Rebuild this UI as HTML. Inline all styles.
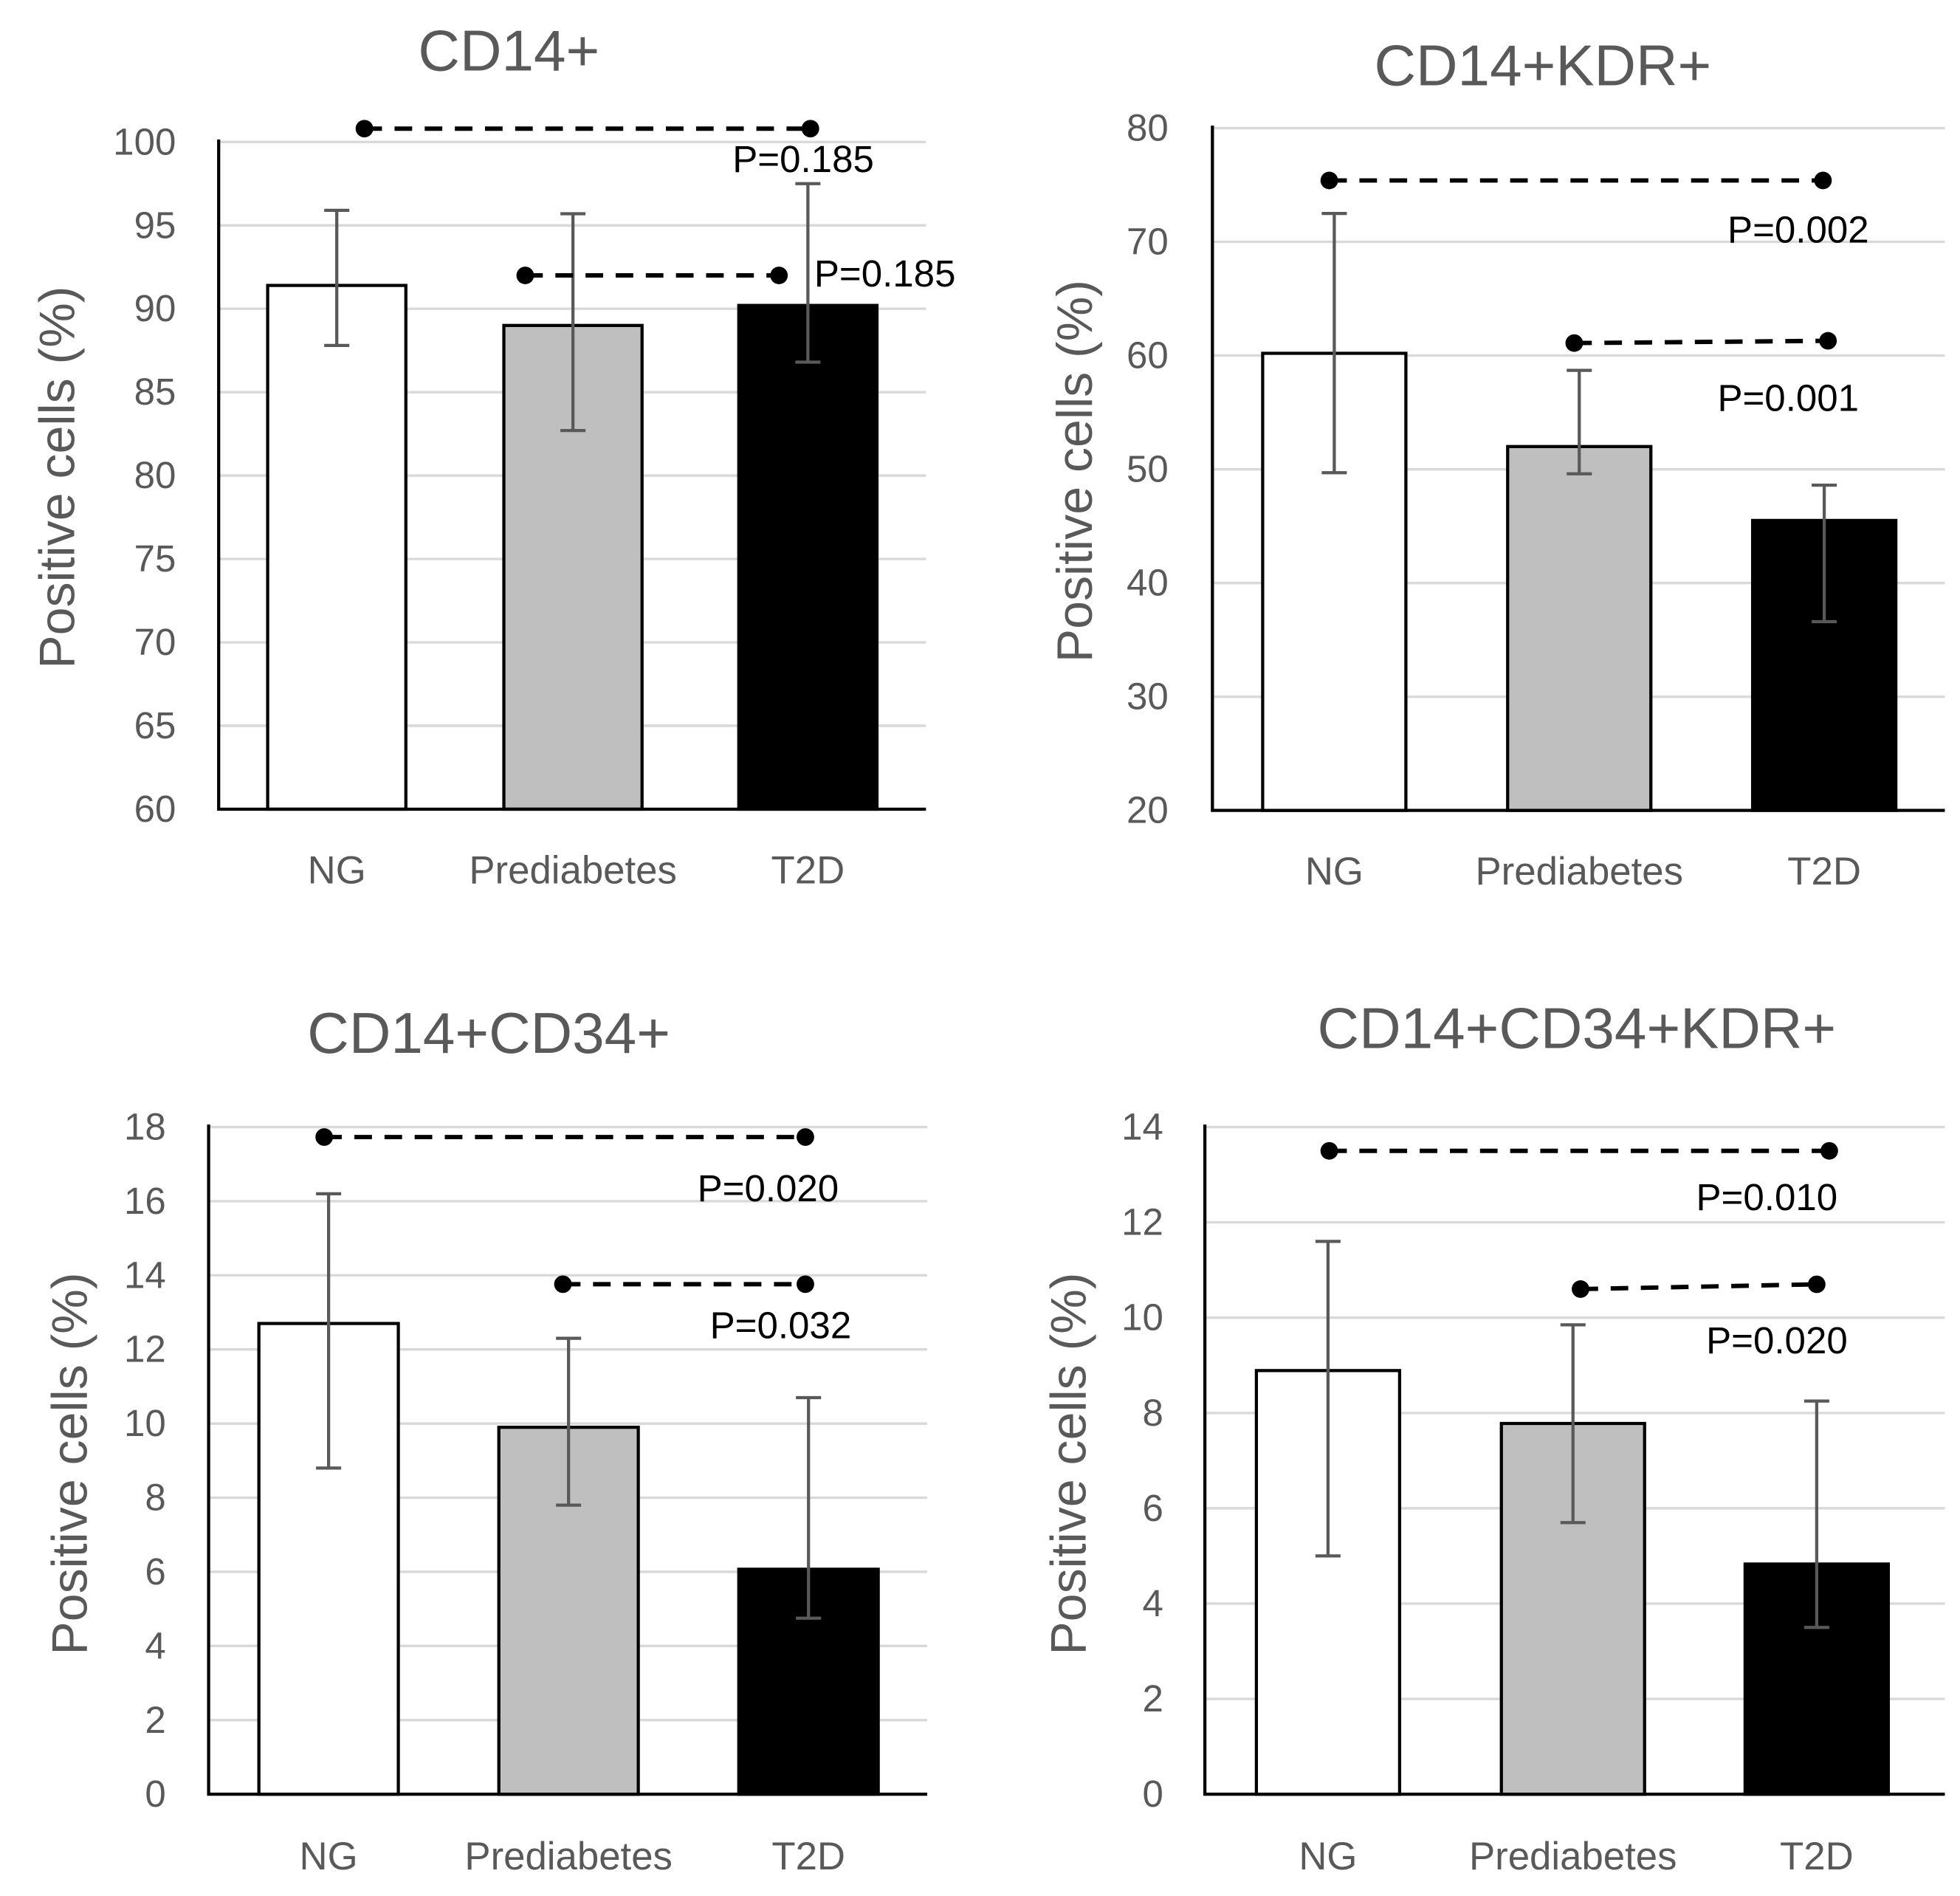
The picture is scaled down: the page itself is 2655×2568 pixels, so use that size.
<!DOCTYPE html>
<html><head><meta charset="utf-8"><style>
html,body{margin:0;padding:0;background:#fff}
svg{display:block}
text{font-family:"Liberation Sans","DejaVu Sans",sans-serif}
</style></head><body>
<svg id="c" width="2655" height="2568" viewBox="0 0 1560 1509" xmlns="http://www.w3.org/2000/svg"></svg>
<script>
// Panel data
const categories = ["NG","Prediabetes","T2D"];
const titles = ["CD14+","CD14+KDR+","CD14+CD34+","CD14+CD34+KDR+"];
const means1 = [91.4, 89.0, 90.2];
const errLo1 = [87.8, 82.7, 86.8];
const errHi1 = [95.9, 95.7, 97.5];
const ticks1 = [60,65,70,75,80,85,90,95,100];
const means2 = [60.2, 52.0, 45.5];
const errLo2 = [49.7, 49.6, 36.6];
const errHi2 = [72.5, 58.7, 48.6];
const ticks2 = [20,30,40,50,60,70,80];
const means3 = [12.7, 9.9, 6.07];
const errLo3 = [8.8, 7.8, 4.75];
const errHi3 = [16.2, 12.3, 10.7];
const ticks3 = [0,2,4,6,8,10,12,14,16,18];
const means4 = [8.89, 7.78, 4.83];
const errLo4 = [5.0, 5.7, 3.5];
const errHi4 = [11.6, 9.85, 8.25];
const ticks4 = [0,2,4,6,8,10,12,14];
const pLabels1 = ["P=0.185","P=0.185"];
const pLabels2 = ["P=0.002","P=0.001"];
const pLabels3 = ["P=0.020","P=0.032"];
const pLabels4 = ["P=0.010","P=0.020"];
const pLevels1 = [[100.8,100.8],[92.0,92.0]];
const pLevels2 = [[75.4,75.4],[61.1,61.3]];
const pLevels3 = [[17.73,17.73],[13.76,13.76]];
const pLevels4 = [[13.5,13.5],[10.6,10.7]];

const layouts = [
 {x0:174,x1:737,y0:644,y1:113,bars:[213,401,588],bw:110,title:[405,40],yl:[45,380],tickX:140,catY:692,
  p:[[290,645,583,127],[418,620,648,218]]},
 {x0:965,x1:1548,y0:645,y1:102,bars:[1005,1200,1395],bw:114,title:[1228,52],yl:[855,375],tickX:930,catY:693,
  p:[[1058,1451,1375,183],[1253,1455,1367,317]]},
 {x0:166,x1:738,y0:1428,y1:897,bars:[206,397,588],bw:111,title:[389,822],yl:[55,1165],tickX:132,catY:1477,
  p:[[258,641,555,946],[448,641,565,1055]]},
 {x0:959,x1:1548,y0:1428,y1:897,bars:[1000,1195,1389],bw:114,title:[1255,818],yl:[850,1165],tickX:926,catY:1477,
  p:[[1058,1456,1350,953],[1258,1446,1358,1067]]}
];
const panels=[[means1,errLo1,errHi1,ticks1,pLabels1,pLevels1],[means2,errLo2,errHi2,ticks2,pLabels2,pLevels2],
 [means3,errLo3,errHi3,ticks3,pLabels3,pLevels3],[means4,errLo4,errHi4,ticks4,pLabels4,pLevels4]];
const fills=["#fff","#bfbfbf","#000"];
const svg=document.getElementById('c');
const NS="http://www.w3.org/2000/svg";
function mk(tag,attrs,parent,txt){const e=document.createElementNS(NS,tag);for(const k in attrs)e.setAttribute(k,attrs[k]);if(txt!==undefined)e.textContent=txt;parent.appendChild(e);return e;}
panels.forEach((pd,i)=>{
 const [m,lo,hi,ticks,pl,plev]=pd, L=layouts[i];
 const g=mk('g',{},svg);
 
 
 const tmin=ticks[0],tmax=ticks[ticks.length-1];
 const y=v=>L.y0+(v-tmin)/(tmax-tmin)*(L.y1-L.y0);
 ticks.forEach(t=>{
  if(t!==tmin){const gl=mk('line',{x1:L.x0,x2:L.x1,y1:y(t),y2:y(t),stroke:'#d9d9d9','stroke-width':2},g);
   }
  const tl=mk('text',{x:L.tickX,y:y(t)+10,'text-anchor':'end','font-size':30,fill:'#595959'},g,String(t));
  
 });
 m.forEach((v,j)=>{
  const bx=L.bars[j];
  const r=mk('rect',{x:bx,y:y(v),width:L.bw,height:L.y0-y(v),fill:fills[j],stroke:'#000','stroke-width':2.5},g);
  
  const cx=bx+L.bw/2;
  const eb=mk('path',{d:`M${cx},${y(lo[j])}V${y(hi[j])}M${cx-10},${y(lo[j])}H${cx+10}M${cx-10},${y(hi[j])}H${cx+10}`,stroke:'#595959','stroke-width':2.5,fill:'none'},g);
  
  const cl=mk('text',{x:cx,y:L.catY+11,'text-anchor':'middle','font-size':31,fill:'#595959'},g,categories[j]);
  
 });
 const ax=mk('path',{d:`M${L.x0},${L.y1-2}V${L.y0}H${L.x1}`,stroke:'#000','stroke-width':2.5,fill:'none'},g);
 
 const tt=mk('text',{x:L.title[0],y:L.title[1]+16,'text-anchor':'middle','font-size':46,fill:'#595959'},g,titles[i]);
 
 const yl=mk('text',{x:L.yl[0],y:L.yl[1],'text-anchor':'middle','font-size':40,fill:'#595959',transform:`rotate(-90 ${L.yl[0]} ${L.yl[1]}) translate(0 14)`},g,'Positive cells (%)');
 
 L.p.forEach((p,k)=>{
  const ya=y(plev[k][0]),yb=y(plev[k][1]);
  const dl=mk('line',{x1:p[0],x2:p[1],y1:ya,y2:yb,stroke:'#000','stroke-width':3.5,'stroke-dasharray':'14 10'},g);
  
  [[p[0],ya],[p[1],yb]].forEach(q=>{const d=mk('circle',{cx:q[0],cy:q[1],r:7,fill:'#000'},g);
   });
  const t=mk('text',{x:p[2],y:p[3]+10,'font-size':30,fill:'#000'},g,pl[k]);
  
 });
});
</script>
</body></html>
